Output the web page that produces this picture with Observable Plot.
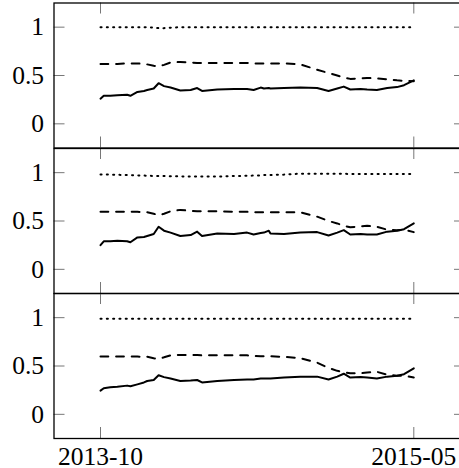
<!DOCTYPE html>
<html>
<head>
<meta charset="utf-8">
<script src="https://cdn.jsdelivr.net/npm/d3@7"></script>
<script src="https://cdn.jsdelivr.net/npm/@observablehq/plot@0.6"></script>
<style>
  html, body { margin: 0; padding: 0; background: #fff; overflow: hidden; }
  #wrap { width: 459px; height: 468px; overflow: hidden; }
  #wrap svg { display: block; overflow: visible; max-width: none !important; }
  #wrap svg text, #wrap svg g[aria-label$="axis"] { font-family: "Liberation Serif", "Times New Roman", serif !important; font-size: 25.5px !important; }
</style>
</head>
<body>
<div id="wrap"></div>
<script>
// ---- data ----
const dates = ["2013-10-01","2013-10-07","2013-10-19","2013-11-01","2013-11-19","2013-11-25","2013-12-08","2013-12-20","2013-12-26",
  "2014-01-07","2014-01-16","2014-01-26","2014-02-07","2014-02-25","2014-03-16","2014-03-28","2014-04-06","2014-05-04","2014-06-04",
  "2014-06-28","2014-07-10","2014-07-23","2014-07-29","2014-08-07","2014-08-10","2014-09-04","2014-10-04","2014-11-04","2014-11-25",
  "2014-12-11","2014-12-23","2015-01-04","2015-01-23","2015-02-04","2015-02-22","2015-03-13","2015-03-31","2015-04-13","2015-05-01"];

const p1Solid  = [0.26,0.29,0.29,0.295,0.30,0.29,0.33,0.34,0.35,0.365,0.42,0.39,0.375,0.345,0.35,0.37,0.34,0.355,0.36,
  0.36,0.35,0.375,0.365,0.37,0.365,0.37,0.375,0.37,0.34,0.365,0.385,0.355,0.36,0.355,0.35,0.37,0.38,0.40,0.45];
const p1Dashed = [0.62,0.62,0.62,0.62,0.625,0.625,0.625,0.62,0.615,0.60,0.595,0.61,0.635,0.64,0.635,0.63,0.63,0.63,0.63,
  0.63,0.625,0.625,0.625,0.625,0.625,0.625,0.615,0.56,0.525,0.50,0.48,0.465,0.47,0.475,0.47,0.46,0.45,0.445,0.44];
const p1Dotted = [1,1,1,1,1,1,1,1,1,0.995,0.99,0.99,0.995,1,1,1,1,1,1,
  1,1,1,1,1,1,1,1,1,1,1,1,1,1,1,1,1,1,1,1];

const p2Solid  = [0.25,0.29,0.29,0.295,0.29,0.28,0.33,0.335,0.345,0.365,0.44,0.40,0.38,0.345,0.355,0.39,0.345,0.37,0.365,
  0.38,0.36,0.375,0.38,0.40,0.37,0.365,0.38,0.385,0.35,0.38,0.405,0.36,0.365,0.36,0.36,0.39,0.40,0.415,0.475];
const p2Dashed = [0.595,0.595,0.595,0.595,0.595,0.595,0.595,0.59,0.59,0.575,0.56,0.575,0.60,0.615,0.605,0.60,0.60,0.60,0.595,
  0.595,0.59,0.59,0.59,0.59,0.59,0.59,0.59,0.545,0.50,0.475,0.45,0.435,0.445,0.45,0.44,0.41,0.405,0.41,0.385];
const p2Dotted = [0.98,0.98,0.98,0.978,0.975,0.975,0.972,0.97,0.968,0.966,0.965,0.965,0.963,0.962,0.96,0.96,0.96,0.96,0.965,
  0.968,0.97,0.972,0.975,0.975,0.976,0.98,0.99,0.99,0.99,0.988,0.988,0.987,0.987,0.986,0.986,0.986,0.985,0.985,0.985];

const p3Solid  = [0.245,0.27,0.28,0.286,0.297,0.29,0.31,0.33,0.345,0.355,0.405,0.385,0.37,0.345,0.35,0.355,0.33,0.345,0.355,
  0.36,0.36,0.37,0.37,0.37,0.37,0.38,0.39,0.39,0.36,0.39,0.42,0.38,0.385,0.38,0.37,0.39,0.40,0.415,0.476];
const p3Dashed = [0.597,0.597,0.597,0.597,0.597,0.597,0.597,0.595,0.595,0.58,0.575,0.59,0.61,0.614,0.614,0.614,0.61,0.612,0.612,
  0.61,0.605,0.60,0.60,0.60,0.60,0.595,0.58,0.535,0.48,0.45,0.435,0.424,0.425,0.433,0.44,0.41,0.40,0.40,0.38];
const p3Dotted = [0.99,0.99,0.99,0.99,0.99,0.99,0.99,0.99,0.99,0.99,0.99,0.99,0.99,0.99,0.99,0.99,0.99,0.99,0.99,
  0.99,0.99,0.99,0.99,0.99,0.99,0.99,0.99,0.99,0.99,0.99,0.99,0.99,0.99,0.99,0.99,0.99,0.99,0.99,0.99];

const xTickDates = ["2013-10-01", "2015-05-01"];
const xTickLabels = ["2013-10", "2015-05"];
const yTicks = [0, 0.5, 1];
const yLabels = ["0", "0.5", "1"];

const panels = [
  {solid: p1Solid, dashed: p1Dashed, dotted: p1Dotted},
  {solid: p2Solid, dashed: p2Dashed, dotted: p2Dotted},
  {solid: p3Solid, dashed: p3Dashed, dotted: p3Dotted}
];

// ---- drawing ----
const W = 466, ML = 53.5, MR = 1, PH = 145, TICK = 11;
const parse = d3.utcParse("%Y-%m-%d");
const xt = xTickDates.map(parse);
const wrap = document.getElementById("wrap");

panels.forEach((p, k) => {
  const first = k === 0, last = k === panels.length - 1;
  const mt = first ? 2.5 : 0;
  const mb = last ? 31 : 0;
  const h = PH + mt + mb;
  const mk = arr => dates.map((d, i) => ({date: parse(d), v: arr[i]}));
  const marks = [
    Plot.tickX(xt, {x: d => d, stroke: "#777", strokeWidth: 1, insetTop: PH - TICK}),
    Plot.tickX(xt, {x: d => d, stroke: "#777", strokeWidth: 1, insetBottom: PH - TICK}),
    Plot.tickY(yTicks, {y: d => d, stroke: "#777", strokeWidth: 1, insetRight: W - ML - MR - TICK}),
    Plot.tickY(yTicks, {y: d => d, stroke: "#777", strokeWidth: 1, insetLeft: W - ML - MR - TICK}),
    Plot.axisY(yTicks, {anchor: "left", tickSize: 0, tickPadding: 10, label: null,
      tickFormat: d => yLabels[yTicks.indexOf(d)], fill: "black"}),
    Plot.line(mk(p.dotted), {x: "date", y: "v", stroke: "black", strokeWidth: 2, strokeDasharray: "1.1,5.2"}),
    Plot.line(mk(p.dashed), {x: "date", y: "v", stroke: "black", strokeWidth: 2, strokeDasharray: "7.8,7.8"}),
    Plot.line(mk(p.solid), {x: "date", y: "v", stroke: "black", strokeWidth: 2, strokeLinejoin: "round"}),
    Plot.frame({stroke: "black", strokeWidth: 1.3})
  ];
  if (last) {
    marks.push(Plot.axisX(xt, {anchor: "bottom", tickSize: 0, tickPadding: 8, label: null,
      tickFormat: d => xTickLabels[xt.findIndex(t => +t === +d)], fill: "black"}));
  } else {
    marks.push(Plot.axisX([], {anchor: "bottom", tickSize: 0, label: null}));
  }
  const chart = Plot.plot({
    width: W, height: h,
    marginLeft: ML, marginRight: MR, marginTop: mt, marginBottom: mb,
    x: {type: "utc", domain: [xt[0], xt[1]], range: [100, 413.3], label: null},
    y: {domain: [-0.25, 1.25], label: null},
    style: {fontFamily: "Liberation Serif", fontSize: "25.5px", background: "transparent", color: "black", overflow: "visible", maxWidth: "none"},
    marks
  });
  wrap.appendChild(chart);
});
</script>
</body>
</html>
